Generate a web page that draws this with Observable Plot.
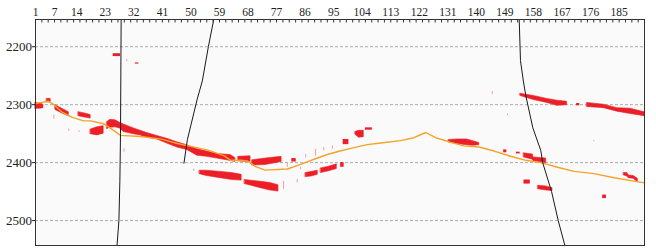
<!DOCTYPE html>
<html><head><meta charset="utf-8">
<script src="https://cdn.jsdelivr.net/npm/d3@7"></script>
<script src="https://cdn.jsdelivr.net/npm/@observablehq/plot@0.6"></script>
<style>
body{margin:0;background:#fff}
svg text, svg g[aria-label] { font-family: "Liberation Serif", "Times New Roman", serif !important; }
</style>
</head><body><div id="chart"></div>
<script>
// ---- data ----
const xTickLabels = [1,7,14,23,32,41,50,59,68,77,86,95,104,113,122,131,140,149,158,167,176,185];
const yTickLabels = [2200,2300,2400,2500];
const traceDomain = [1,193];
const velocityDomain = [2153,2543];
const minorTicks = d3.range(1, 194, 2);

// orange picked curve [trace, value]
const orangeCurve = [[1,2298],[3,2296],[5.2,2294],[6.8,2300],[9.4,2313],[12.6,2322],[16.2,2328],[18.3,2328],[22.5,2333],[24.7,2341],[27.8,2353],[34.1,2355],[40.4,2359],[45.7,2367],[49.9,2372],[55.1,2378],[60.4,2388],[62.5,2396],[65.6,2396],[67.8,2397],[70.4,2407],[73.4,2413],[80.4,2411],[84.6,2403],[89.9,2392],[93,2386],[97,2380],[101.4,2374],[105.6,2369],[109.8,2366],[116.1,2362],[120.3,2357],[124,2348],[127.2,2357],[131.9,2365],[136.1,2371],[140.8,2373],[145.6,2380],[150.8,2389],[155.6,2396],[160.3,2400],[165.6,2408],[170.8,2415],[177.1,2419],[183.4,2426],[188.7,2431],[193,2435]];

// black lines [trace, value]
const blackLineA = [[28,2153],[27.8,2350],[27.6,2432],[27.3,2500],[26.7,2543]];
const blackLineB = [[57.2,2153],[55.5,2200],[53.6,2259],[52,2290],[48.9,2360],[47.8,2401]];
const blackLineC = [[153.5,2153],[153.9,2224],[154.8,2259],[155.6,2285],[157.8,2340],[160.3,2379],[160.9,2400],[163.7,2450],[165.8,2500],[167.9,2543]];

// red patches: each is a list of [trace, top value, bottom value]
const redPatches = [
  [[1,2297,2307],[2.5,2298,2307],[3.5,2300,2306]],
  [[4.6,2290,2296],[5.8,2290,2296]],
  [[7.3,2301,2309],[9.4,2307,2315],[11.5,2313,2320]],
  [[14.6,2313,2320],[16.5,2315,2322],[18.4,2318,2324]],
  [[18.4,2343,2351],[20.5,2339,2353],[22.5,2337,2350]],
  [[23.6,2330,2342],[24.6,2326,2340],[26.2,2327,2339],[27.6,2331,2341],[28.8,2334,2347],[32,2341,2351],[34.1,2345,2353],[36.2,2349,2357],[39.4,2354,2360],[42.5,2359,2367],[45.7,2365,2374],[48.8,2370,2378],[52,2377,2388],[55.1,2381,2390],[58.3,2385,2393],[62.5,2387,2397],[64,2392,2399]],
  [[65,2390,2398],[68.8,2389,2399]],
  [[69.4,2396,2405],[73.6,2393,2404],[78.6,2390,2399]],
  [[52.8,2414,2420],[55,2414,2423],[59.4,2416,2427],[63,2418,2430],[66,2421,2431]],
  [[67,2430,2437],[72,2433,2444],[75,2435,2448],[77.6,2439,2450]],
  [[86.2,2418,2425],[88,2416,2424],[90,2414,2421]],
  [[91,2410,2418],[93.5,2407,2415],[96,2403,2411]],
  [[101.9,2347,2352],[103,2345,2357],[104.5,2345,2356]],
  [[131.3,2361,2365],[134,2360,2368],[137,2360,2370],[139,2363,2371],[140.9,2366,2370]],
  [[155,2384,2391],[157.8,2386,2395],[158,2391,2397],[162,2393,2401]],
  [[159.5,2440,2446],[162,2441,2448],[164,2444,2449]],
  [[186.5,2418,2422],[187.6,2418,2424],[188,2422,2427],[189.6,2423,2428],[190.9,2428,2434]],
  [[153.9,2281,2285],[158.1,2285,2292],[162.3,2290,2297],[165.5,2293,2302],[168.6,2295,2301]],
  [[174.9,2297,2304],[180.2,2300,2306],[184.4,2306,2312],[188.6,2307,2316],[193,2313,2320]]
];
// small red cells [trace from, trace to, value top, value bottom]
const redCells = [
  [81.8,83.2,2393,2399],[97.2,98.3,2400,2408],[98,99.8,2360,2369],[105,107.2,2340,2344],
  [148.6,149.6,2378,2383],[152.6,153.8,2382,2385],[155,157,2430,2437],[171.6,172.6,2298,2302],
  [179.8,181,2456,2462],[25.5,27.8,2212,2217],[32.5,33.6,2228,2230]
];
// faint pink specks [trace, value from, value to]
const pinkSpecks = [
  [6.8,2318,2325],[11.5,2342,2346],[14.7,2345,2348],[28.9,2376,2382],[29.8,2222,2226],[50.9,2411,2415],
  [79.2,2432,2446],[80.4,2401,2408],[83.5,2429,2435],[84.6,2408,2412],[86.2,2386,2392],[89.3,2377,2389],
  [91.9,2374,2380],[94.6,2371,2377],[145,2277,2283],[149.8,2316,2319],[177,2362,2364]
];

// ---- tables built from the arrays ----
const orangeRows = orangeCurve.map(([t,v]) => ({t, v}));
const blackRows = [["A",blackLineA],["B",blackLineB],["C",blackLineC]]
  .flatMap(([id, pts]) => pts.map(([t,v]) => ({id, t, v})));
const patchRows = redPatches.flatMap((p, i) => p.map(([t,top,bot]) => ({id:i, t, top, bot})));
const cellRows = redCells.map(([t1,t2,v1,v2]) => ({t1,t2,v1,v2}));
const speckRows = pinkSpecks.map(([t,v1,v2]) => ({t,v1,v2}));

const red = "#ec1f27";
const serif = "Liberation Serif";
const chart = Plot.plot({
  width: 656, height: 252,
  marginTop: 19, marginLeft: 35, marginRight: 12, marginBottom: 7,
  style: {fontFamily: serif, background: "#fff", color: "#222"},
  x: {domain: traceDomain},
  y: {domain: velocityDomain, reverse: true},
  marks: [
    Plot.frame({fill: "#fafafa", stroke: null}),
    Plot.gridY(yTickLabels, {stroke: "#8a8a8a", strokeOpacity: 1, strokeDasharray: "3,2", strokeWidth: 0.7}),
    Plot.ruleX(speckRows, {x: "t", y1: "v1", y2: "v2", stroke: "#f2a0a0", strokeWidth: 1}),
    Plot.areaY(patchRows, {x: "t", y1: "top", y2: "bot", z: "id", fill: red, stroke: red, strokeWidth: 0.6, curve: "linear"}),
    Plot.rect(cellRows, {x1: "t1", x2: "t2", y1: "v1", y2: "v2", fill: red}),
    Plot.line(orangeRows, {x: "t", y: "v", stroke: "#f3a328", strokeWidth: 1.4}),
    Plot.line(blackRows, {x: "t", y: "v", z: "id", stroke: "#1a1a1a", strokeWidth: 1}),
    Plot.ruleX(minorTicks, {x: d => d, y1: velocityDomain[0], y2: velocityDomain[0] + 6, stroke: "#333", strokeWidth: 1}),
    Plot.axisX(xTickLabels, {anchor: "top", tickSize: 0, tickPadding: 4, fontSize: 11.5, fontFamily: serif, label: null}),
    Plot.axisY(yTickLabels, {anchor: "left", tickSize: 3, tickPadding: 0.5, fontSize: 13, fontFamily: serif, label: null, tickFormat: d => String(d)}),
    Plot.frame({stroke: "#333", strokeWidth: 1})
  ]
});
document.getElementById("chart").appendChild(chart);
</script>
</body></html>
